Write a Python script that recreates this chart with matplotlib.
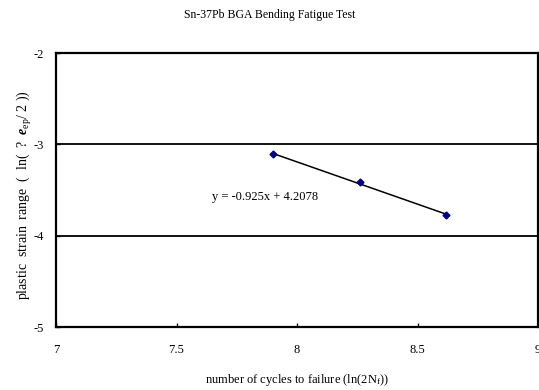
import matplotlib
matplotlib.use("Agg")
import matplotlib.pyplot as plt
import numpy as np

# Data
cycles = [7.90, 8.26, 8.62]
strain = [-3.11, -3.41, -3.77]
slope = -0.925
intercept = 4.2078
title = "Sn-37Pb BGA Bending Fatigue Test"
x_ticks = [7, 7.5, 8, 8.5, 9]
x_tick_labels = ["7", "7.5", "8", "8.5", "9"]
y_ticks = [-5, -4, -3, -2]
y_tick_labels = ["-5", "-4", "-3", "-2"]

plt.rcParams['font.family'] = ['Liberation Serif', 'DejaVu Serif']
plt.rcParams['mathtext.fontset'] = 'custom'
plt.rcParams['mathtext.rm'] = 'Liberation Serif'
plt.rcParams['mathtext.it'] = 'Liberation Serif:italic:bold'

fig = plt.figure(figsize=(5.39, 3.90), dpi=100)
ax = fig.add_axes([56/539, 1-327/390, (538-56)/539, (327-53)/390])

ax.set_xlim(7, 9)
ax.set_ylim(-5, -2)

for yv in [-4, -3]:
    ax.axhline(yv, color='black', lw=1.3, zorder=1)

xf = np.array([min(cycles), max(cycles)])
ax.plot(xf, slope*xf + intercept, color='black', lw=1.1, zorder=2)
ax.plot(cycles, strain, linestyle='none', marker='D', ms=3.5, color='#000080', zorder=3)

ax.text(7.647, -3.577, "y = -0.925x + 4.2078", fontsize=9, ha='left', va='center')

ax.set_xticks(x_ticks)
ax.set_xticklabels(x_tick_labels)
ax.set_yticks(y_ticks)
ax.set_yticklabels(y_tick_labels)
ax.tick_params(axis='x', direction='in', length=3, width=1, pad=12, labelsize=9)
ax.tick_params(axis='y', direction='in', length=3, width=1, pad=9, labelsize=9)

for s in ax.spines.values():
    s.set_linewidth(1.6)
    s.set_color('black')

ax.set_xlabel(r"number of cycles to failure (ln(2N$_{\mathrm{f}}$))", fontsize=9, labelpad=12)
ax.set_ylabel(r"plastic  strain  range  (  ln(  ?  $e_{\mathrm{ep}}$/ 2 ))", fontsize=10, labelpad=11)
ax.yaxis.set_label_coords(-0.046, 0.48)
fig.text(270/539, 1-15/390, title, fontsize=8.5, ha='center', va='center')

fig.savefig("out.png", dpi=100)
